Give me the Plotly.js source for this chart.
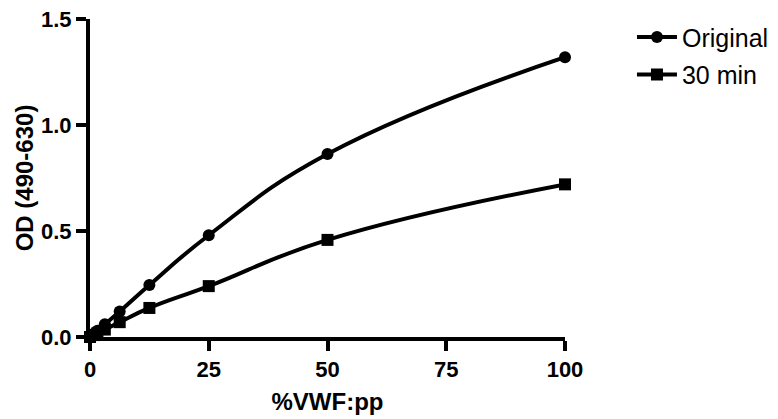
<!DOCTYPE html>
<html>
<head>
<meta charset="utf-8">
<script src="https://cdn.plot.ly/plotly-3.0.1.min.js"></script>
<style>
  html, body { margin: 0; padding: 0; background: #fff; }
  #chart { width: 778px; height: 419px; }
</style>
</head>
<body>
<div id="chart"></div>
<script>
// Dilution series (% VWF:pp) and measured optical density
const dilution = [0, 0.78, 1.5625, 3.125, 6.25, 12.5, 25, 50, 100];
const odOriginal = [0, 0.015, 0.03, 0.06, 0.12, 0.245, 0.48, 0.863, 1.32];
const od30min = [0, 0.009, 0.018, 0.035, 0.07, 0.137, 0.24, 0.458, 0.72];
const seriesNames = ['Original', '30 min'];
const xTicks = [0, 25, 50, 75, 100];
const yTicks = [0, 0.5, 1.0, 1.5];
const yTickText = ['0.0', '0.5', '1.0', '1.5'];

const font = 'Arial, "Liberation Sans", sans-serif';

const traces = [
  {
    x: dilution, y: odOriginal, name: seriesNames[0],
    type: 'scatter', mode: 'lines+markers', legendgroup: 'a',
    line: { color: '#000', width: 4, shape: 'spline', smoothing: 1.3 },
    marker: { symbol: 'circle', size: 12, color: '#000' },
    cliponaxis: false
  },
  {
    x: dilution, y: od30min, name: seriesNames[1],
    type: 'scatter', mode: 'lines+markers', legendgroup: 'b',
    line: { color: '#000', width: 4, shape: 'spline', smoothing: 1.3 },
    marker: { symbol: 'square', size: 12, color: '#000' },
    cliponaxis: false
  }
];

const layout = {
  width: 778, height: 419,
  margin: { l: 90, r: 213, t: 19, b: 82 },
  paper_bgcolor: '#fff', plot_bgcolor: '#fff',
  font: { family: font, color: '#000' },
  showlegend: true,
  legend: {
    xref: 'container', yref: 'container',
    x: 0.8123, xanchor: 'left', y: 0.966, yanchor: 'top',
    font: { family: font, size: 25, color: '#000' },
    traceorder: 'grouped', tracegroupgap: 2,
    itemwidth: 40, bgcolor: 'rgba(0,0,0,0)'
  },
  xaxis: {
    range: [0, 100], tickvals: xTicks, ticktext: xTicks.map(String),
    showgrid: false, zeroline: false,
    showline: true, linecolor: '#000', linewidth: 4,
    ticks: 'outside', ticklen: 10, tickwidth: 4, tickcolor: '#000',
    tickfont: { family: font, size: 22, color: '#000', weight: 'bold' },
    title: { text: '%VWF:pp', font: { family: font, size: 24, color: '#000', weight: 'bold' }, standoff: 13 }
  },
  yaxis: {
    range: [0, 1.5], tickvals: yTicks, ticktext: yTickText,
    showgrid: false, zeroline: false,
    showline: true, linecolor: '#000', linewidth: 4,
    ticks: 'outside', ticklen: 10, tickwidth: 4, tickcolor: '#000',
    tickfont: { family: font, size: 22, color: '#000', weight: 'bold' },
    title: { text: 'OD (490-630)', font: { family: font, size: 24, color: '#000', weight: 'bold' }, standoff: 2 }
  }
};

Plotly.newPlot('chart', traces, layout, { displayModeBar: false, staticPlot: true });
</script>
</body>
</html>
